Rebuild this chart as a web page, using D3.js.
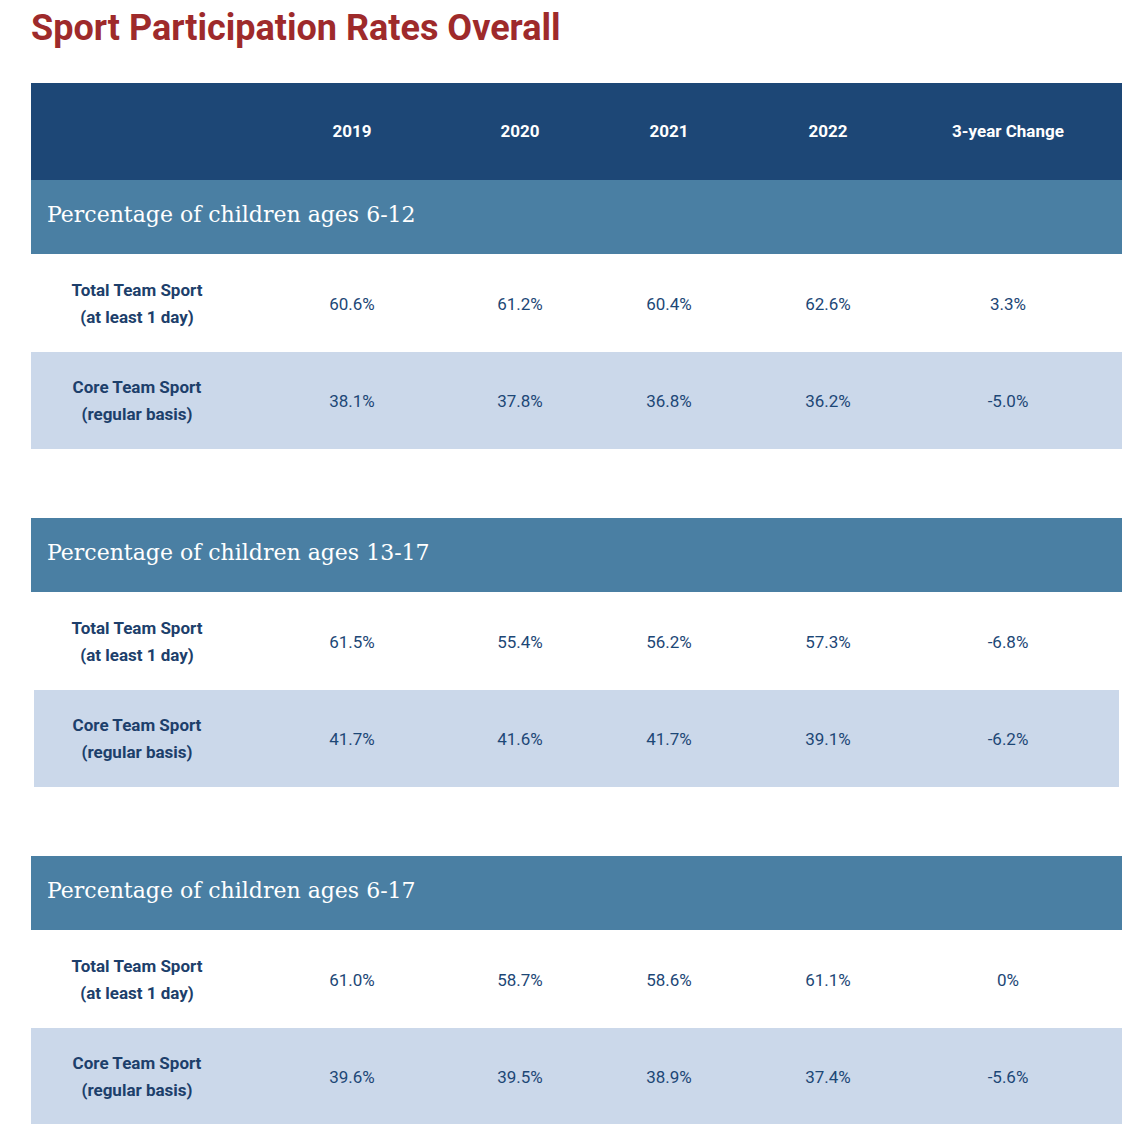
<!DOCTYPE html>
<html><head><meta charset="utf-8">
<script src="https://cdn.jsdelivr.net/npm/d3@7"></script>
<style>body{margin:0;background:#fff}</style>
</head><body>
<svg id="c" width="1130" height="1124"></svg>
<script>
const title = "Sport Participation Rates Overall";
const columns = ["2019","2020","2021","2022","3-year Change"];
const sections = ["Percentage of children ages 6-12","Percentage of children ages 13-17","Percentage of children ages 6-17"];
const rowLabels = [["Total Team Sport","(at least 1 day)"],["Core Team Sport","(regular basis)"]];
const values612 = [["60.6%","61.2%","60.4%","62.6%","3.3%"],["38.1%","37.8%","36.8%","36.2%","-5.0%"]];
const values1317 = [["61.5%","55.4%","56.2%","57.3%","-6.8%"],["41.7%","41.6%","41.7%","39.1%","-6.2%"]];
const values617 = [["61.0%","58.7%","58.6%","61.1%","0%"],["39.6%","39.5%","38.9%","37.4%","-5.6%"]];
const sectionValues = [values612, values1317, values617];

const svg = d3.select("#c");
const x = d3.scaleOrdinal().domain(["label",...columns]).range([137,352,520,669,828,1008]);
const left = 31, right = 1122;
const sectionTop = [180, 518, 856];
const bandH = 74, rowH = 97;

svg.append("text").attr("x",31).attr("y",40).text(title)
  .attr("font-family","Roboto").attr("font-weight","bold").attr("font-size",36).attr("fill","#9e2a2b");

svg.append("rect").attr("x",left).attr("y",83).attr("width",right-left).attr("height",97).attr("fill","#1d4776");
svg.selectAll(".hdr").data(columns).join("text")
  .attr("x",d=>x(d)).attr("y",137).attr("text-anchor","middle").text(d=>d)
  .attr("font-family","Roboto").attr("font-weight","bold").attr("font-size",17).attr("fill","#fff");

sections.forEach((s,i)=>{
  const t = sectionTop[i];
  svg.append("rect").attr("x",left).attr("y",t).attr("width",right-left).attr("height",bandH).attr("fill","#4a7fa3");
  svg.append("text").attr("x",47).attr("y",t+42).text(s)
    .attr("font-family","DejaVu Serif").attr("font-size",22).attr("fill","#fff");
  sectionValues[i].forEach((row,r)=>{
    const y0 = t+bandH+r*rowH;
    if(r===1) svg.append("rect").attr("x",i===1?34:left).attr("y",y0+1).attr("width",i===1?1085:right-left).attr("height",rowH).attr("fill","#cbd8ea");
    const cy = y0+rowH/2;
    const lt = svg.append("text").attr("x",x("label")).attr("text-anchor","middle")
      .attr("font-family","Roboto").attr("font-weight","bold").attr("font-size",17).attr("fill","#1d3f6b");
    lt.append("tspan").attr("x",x("label")).attr("y",cy-7).text(rowLabels[r][0]);
    lt.append("tspan").attr("x",x("label")).attr("y",cy+20).text(rowLabels[r][1]);
    svg.selectAll(null).data(row).join("text")
      .attr("x",(d,j)=>x(columns[j])).attr("y",cy+7).attr("text-anchor","middle").text(d=>d)
      .attr("font-family","Roboto").attr("font-size",17).attr("fill","#1d4776");
  });
});
</script>
</body></html>
